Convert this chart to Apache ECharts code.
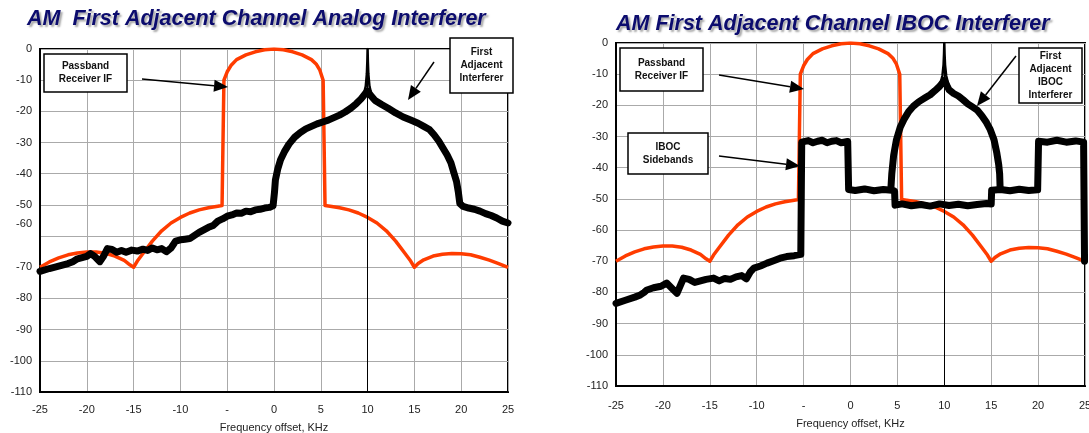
<!DOCTYPE html>
<html><head><meta charset="utf-8">
<script src="https://cdn.jsdelivr.net/npm/echarts@6/dist/echarts.min.js"></script>
<style>html,body{margin:0;padding:0;background:#fff}#c{width:1089px;height:433px}</style>
</head><body><div id="c"></div>
<script>
// ---- tick labels ----
const xTicks = [-25, -20, -15, -10, -5, 0, 5, 10, 15, 20, 25];
const xTickLabels = ['-25', '-20', '-15', '-10', '-', '0', '5', '10', '15', '20', '25'];
const yTicks = [0, -10, -20, -30, -40, -50, -60, -70, -80, -90, -100, -110];
const xAxisName = 'Frequency offset, KHz';
const titles = ['AM  First Adjacent Channel Analog Interferer', 'AM First Adjacent Channel IBOC Interferer'];

// ---- passband receiver IF (red) ----
const receiverX = [-25, -24, -23, -22, -21, -20, -19, -18, -17, -16, -15.4, -15, -14.6, -14, -13, -12, -11, -10, -9, -8, -7, -6, -5.55, -5.45, -5.35, -5.0, -4.6, -4, -3, -2, -1, 0,
  1, 2, 3, 4, 4.5, 4.9, 5.25, 5.35, 5.45, 6, 7, 8, 9, 10, 11, 12, 13, 14, 14.6, 15, 15.4, 16, 17, 18, 19, 20, 21, 22, 23, 24, 25];
const receiverY = [-70, -68.3, -67, -66, -65.4, -65.1, -65.1, -65.5, -66.4, -67.8, -69.2, -70, -68, -65.6, -61.6, -58.3, -55.8, -54, -52.6, -51.6, -50.9, -50.4, -50.2, -30, -10, -7.3, -5.3, -3.4, -1.9, -0.9, -0.25, 0,
  -0.25, -0.9, -1.9, -3.4, -4.8, -6.8, -10, -30, -50.2, -50.4, -50.9, -51.6, -52.6, -54, -55.8, -58.3, -61.6, -65.6, -68, -70, -68.8, -67.6, -66.4, -65.8, -65.6, -65.7, -66, -66.8, -67.7, -68.8, -70];

// ---- analog first adjacent interferer (black, left chart) ----
const analogX = [-25, -24, -23, -22, -21.5, -21, -20.5, -20, -19.6, -19.2, -18.6, -18.2, -17.8, -17.3, -16.8, -16.3, -15.8, -15.2, -14.6, -14, -13.5, -13, -12.5, -12, -11.5, -11, -10.5, -10, -9.5, -9, -8.6, -8, -7.5, -7, -6.5, -6, -5.5, -5, -4.5, -4, -3.5, -3, -2.5, -2, -1.5, -1, -0.5, -0.1,
  0.05, 0.15, 0.4, 0.7, 1.1, 1.6, 2.2, 2.8, 3.4, 4, 4.6, 5.2, 5.8, 6.4, 7, 7.6, 8.2, 8.8, 9.3, 9.7, 10, 10.3, 10.8, 11.5, 12.2, 13, 13.8, 14.6, 15.4, 16, 16.6, 17.1, 17.6, 18, 18.5, 18.9, 19.2, 19.5, 19.7, 19.85,
  20.2, 20.8, 21.4, 22, 22.6, 23.2, 23.8, 24.4, 25];
const analogY = [-71.3, -70.4, -69.6, -68.8, -68.2, -67.3, -66.9, -66.5, -65.6, -66.4, -68.2, -66.4, -64, -64.3, -65.2, -64.6, -65.2, -64.5, -64.8, -64.2, -64.6, -63.8, -64.4, -64, -65, -63.8, -61.6, -61.2, -61, -60.8, -60, -58.8, -58, -57.2, -56.6, -55.2, -54.5, -53.6, -53.2, -52.6, -52.7, -52, -52.2, -51.6, -51.4, -51, -50.8, -50.3,
  -46, -42, -38.5, -35.5, -33, -30.5, -28.3, -26.8, -25.6, -24.8, -24, -23.4, -22.8, -22, -21.2, -20.2, -19, -17.5, -16, -14.5, -13.5, -14.8, -16.5, -17.8, -19, -20.5, -21.8, -22.8, -23.8, -24.8, -25.8, -27.5, -29.5, -31.5, -34, -36.5, -39.5, -42.5, -46, -49.5,
  -50.5, -51, -51.4, -52, -52.8, -53.4, -54.2, -55.2, -55.8];

// ---- carrier spike at +10 kHz ----
const spikeX = [9.55, 9.8, 9.92, 9.97, 10, 10.03, 10.08, 10.2, 10.45];
const analogSpikeY = [-15, -12, -8, -4, 0, -4, -8, -12, -15];
const ibocSpikeY = [-13.5, -10.5, -7, -3.5, 0, -3.5, -7, -10.5, -13.5];

// ---- IBOC interferer (black, right chart): sidebands path ----
const ibocX = [-25, -24, -23, -22.4, -22, -21.7, -21, -20.2, -19.6, -19.1, -18.5, -18.1, -17.8, -17.2, -16.6, -16, -15.4, -14.6, -14, -13.4, -12.8, -12.2, -11.6, -11.1, -10.7, -10.3, -9.6, -8.9, -8.2, -7.5, -6.8, -6, -5.3,
  -5.2, -4.5, -4, -3.5, -3, -2.5, -2, -1.5, -1, -0.3, -0.2, 0.5, 1.5, 2.5, 3.5, 4.4, 4.7, 4.75, 5.5, 6.5, 7.5, 8.5, 9.5, 10.5, 11.5, 12.5, 13.5, 14.5, 15,
  15.05, 16, 17, 18, 19, 19.95, 20.05, 21, 22, 23, 24, 24.85, 24.95];
const ibocY = [-83.5, -82.5, -81.5, -80.8, -80, -79.2, -78.5, -78, -77, -78.5, -80.3, -77.5, -75.4, -75.8, -76.8, -76.3, -75.8, -75.4, -76.3, -75.5, -75.8, -75, -74.6, -75.6, -73.5, -72.2, -71.5, -70.6, -69.8, -69, -68.5, -68.2, -67.8,
  -31.8, -31.3, -32, -31.5, -31.2, -32, -31.5, -31.3, -32, -31.6, -47, -47.3, -46.8, -47.4, -47, -47.2, -47.5, -52, -51.6, -52.2, -51.8, -52.3, -51.6, -52.1, -51.7, -52.2, -51.8, -51.5, -51.6,
  -47.2, -47, -47.4, -46.9, -47.3, -47.1, -31.5, -31.8, -31.2, -31.8, -31.4, -31.8, -70];

// ---- IBOC interferer dome ----
const domeX = [4.3, 4.4, 4.6, 4.9, 5.3, 5.7, 6.2, 6.7, 7.3, 8, 8.5, 9, 9.5, 10, 10.5, 11, 11.5, 12, 12.5, 13, 13.5, 14, 14.5, 14.9, 15.3, 15.6, 15.8, 15.9, 15.95];
const domeY = [-47, -42, -36, -31, -27, -24.5, -22, -20.3, -18.8, -17.5, -16.6, -15.3, -13.9, -12, -15, -16.2, -17, -18.2, -19.5, -20.5, -21.5, -23.3, -25.5, -27.8, -31, -35.3, -39, -42, -46.5];

const pairs = (xs, ys) => xs.map((x, i) => [x, ys[i]]);

const FONT = '"Liberation Sans", Arial, sans-serif';
const RED = '#ff3c00';

function xAxis(gi, margin, gap) {
  return {
    type: 'value', gridIndex: gi, min: -25, max: 25, interval: 5,
    name: xAxisName, nameLocation: 'middle', nameGap: gap,
    nameTextStyle: { fontFamily: FONT, fontSize: 11, color: '#222' },
    axisLine: { onZero: false, lineStyle: { color: '#000', width: 2 } },
    axisTick: { show: false },
    axisLabel: { fontFamily: FONT, fontSize: 11, color: '#222', margin: margin,
      formatter: v => { const i = xTicks.indexOf(v); return i >= 0 ? xTickLabels[i] : ''; } },
    splitLine: { show: true, lineStyle: { color: '#aaa', width: 1 } }
  };
}
function yAxis(gi, shift60) {
  return {
    type: 'value', gridIndex: gi, min: -110, max: 0, interval: 10,
    axisLine: { onZero: false, lineStyle: { color: '#000', width: 2 } },
    axisTick: { show: false },
    axisLabel: { fontFamily: FONT, fontSize: 11, color: '#222', margin: 8,
      formatter: v => { const t = yTicks.includes(v) ? String(v) : ''; return (shift60 && v === -60) ? '{up|' + t + '}' : t; },
      rich: { up: { fontFamily: FONT, fontSize: 11, color: '#222', padding: [0, 0, 24, 0] } } },
    splitLine: { show: true, lineStyle: { color: '#aaa', width: 1 } }
  };
}

function box(x, y, w, h, text) {
  return {
    type: 'group', children: [
      { type: 'rect', shape: { x: x, y: y, width: w, height: h }, style: { fill: '#fff', stroke: '#000', lineWidth: 1.5 }, z: 100 },
      { type: 'text', x: x + w / 2, y: y + h / 2, z: 101,
        style: { text: text, fontFamily: FONT, fontWeight: 'bold', fontSize: 10, fill: '#111', align: 'center', verticalAlign: 'middle', lineHeight: 13 } }
    ]
  };
}
function arrow(x1, y1, x2, y2) {
  const dx = x2 - x1, dy = y2 - y1, L = Math.hypot(dx, dy), ux = dx / L, uy = dy / L;
  const hl = 14, hw = 6;
  const bx = x2 - ux * hl, by = y2 - uy * hl;
  return {
    type: 'group', children: [
      { type: 'line', shape: { x1: x1, y1: y1, x2: bx, y2: by }, style: { stroke: '#000', lineWidth: 1.5 }, z: 100 },
      { type: 'polygon', shape: { points: [[x2, y2], [bx - uy * hw, by + ux * hw], [bx + uy * hw, by - ux * hw]] }, style: { fill: '#000' }, z: 100 }
    ]
  };
}

const titleStyle = { fontFamily: FONT, fontStyle: 'italic', fontWeight: 'bold', color: '#0c0c6e',
  textShadowColor: 'rgba(0,0,0,0.35)', textShadowOffsetX: 2, textShadowOffsetY: 2, textShadowBlur: 2 };

const blackLine = (xi, data, w) => ({ type: 'line', xAxisIndex: xi, yAxisIndex: xi, data: data, showSymbol: false, symbol: 'none',
  lineStyle: { color: '#000', width: w, join: 'round', cap: 'round' }, z: 5, silent: true });

const option = {
  animation: false,
  backgroundColor: '#fff',
  title: [
    { text: titles[0], left: 27, top: 8, padding: 0, textStyle: Object.assign({ fontSize: 21.5 }, titleStyle) },
    { text: titles[1], left: 616, top: 13, padding: 0, textStyle: Object.assign({ fontSize: 21.5 }, titleStyle) }
  ],
  grid: [
    { left: 40, top: 49, width: 468, height: 343, outerBoundsMode: 'none', containLabel: false, show: true, borderColor: '#000', borderWidth: 2, backgroundColor: 'transparent' },
    { left: 616, top: 43, width: 469, height: 343, outerBoundsMode: 'none', containLabel: false, show: true, borderColor: '#000', borderWidth: 2, backgroundColor: 'transparent' }
  ],
  xAxis: [xAxis(0, 12, 30), xAxis(1, 14, 32)],
  yAxis: [yAxis(0, true), yAxis(1, false)],
  series: [
    { type: 'line', xAxisIndex: 0, yAxisIndex: 0, data: pairs(receiverX, receiverY), showSymbol: false, symbol: 'none',
      lineStyle: { color: RED, width: 3.5, join: 'round' }, z: 3, silent: true,
      markLine: { silent: true, symbol: 'none', label: { show: false }, lineStyle: { color: '#000', width: 1, type: 'solid' }, data: [{ xAxis: 10 }] } },
    blackLine(0, pairs(analogX, analogY), 7),
    blackLine(0, pairs(spikeX, analogSpikeY), 2.5),
    { type: 'line', xAxisIndex: 1, yAxisIndex: 1, data: pairs(receiverX, receiverY), showSymbol: false, symbol: 'none',
      lineStyle: { color: RED, width: 3.5, join: 'round' }, z: 3, silent: true,
      markLine: { silent: true, symbol: 'none', label: { show: false }, lineStyle: { color: '#000', width: 1, type: 'solid' }, data: [{ xAxis: 10 }] } },
    blackLine(1, pairs(ibocX, ibocY), 7),
    blackLine(1, pairs(domeX, domeY), 7),
    blackLine(1, pairs(spikeX, ibocSpikeY), 2.5)
  ],
  graphic: [
    box(44, 54, 83, 38, 'Passband\nReceiver IF'),
    arrow(142, 79, 228, 87),
    box(450, 38, 63, 55, 'First\nAdjacent\nInterferer'),
    arrow(434, 62, 408, 100),
    box(620, 48, 83, 43, 'Passband\nReceiver IF'),
    arrow(719, 75, 804, 89),
    box(628, 133, 80, 41, 'IBOC\nSidebands'),
    arrow(719, 156, 800, 166),
    box(1019, 48, 63, 55, 'First\nAdjacent\nIBOC\nInterferer'),
    arrow(1016, 56, 977, 106)
  ]
};
const chart = echarts.init(document.getElementById('c'), null, { renderer: 'canvas' });
chart.setOption(option);
</script>
</body></html>
